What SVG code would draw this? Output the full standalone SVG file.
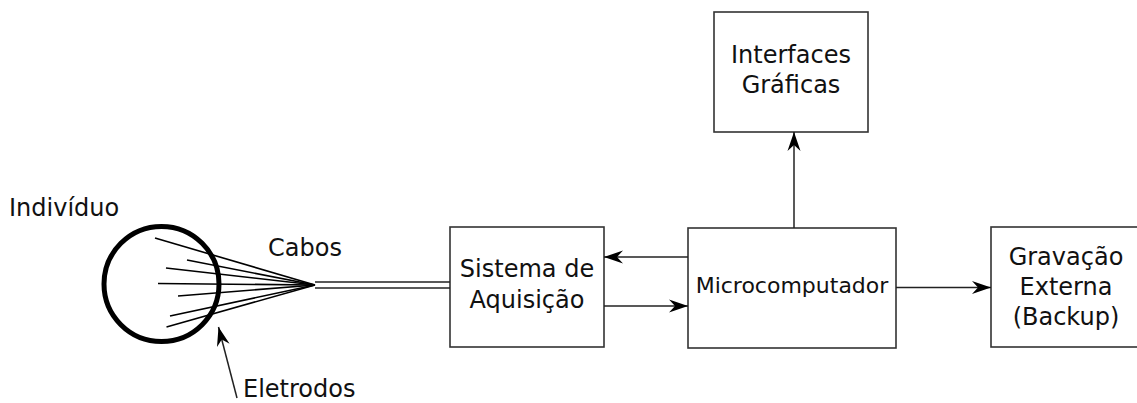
<svg xmlns="http://www.w3.org/2000/svg" width="1137" height="403" viewBox="0 0 1137 403">
  <style>
    .box { fill: #fff; stroke: #333; stroke-width: 1.6; }
    .lbl { font-family: "DejaVu Sans", Verdana, sans-serif; font-size: 24px; fill: #111; }
    .mid { text-anchor: middle; }
    .wire { stroke: #222; stroke-width: 1.5; fill: none; }
    .arrow { stroke: #222; stroke-width: 1.5; fill: none; marker-end: url(#head); }
    .lead { stroke: #000; stroke-width: 1.6; fill: none; }
  </style>
  <defs>
    <marker id="head" viewBox="-20 -8 21 16" refX="0" refY="0" markerWidth="21" markerHeight="16" markerUnits="userSpaceOnUse" orient="auto">
      <path d="M0,0 L-19,-6.5 L-13,0 L-19,6.5 Z" fill="#000"/>
    </marker>
  </defs>

  <!-- subject with electrodes -->
  <g id="individuo">
    <circle cx="161.5" cy="284" r="57.5" fill="none" stroke="#000" stroke-width="5"/>
    <g class="lead">
      <line x1="155" y1="238" x2="315" y2="285"/>
      <line x1="187" y1="260" x2="315" y2="285"/>
      <line x1="166" y1="268" x2="315" y2="285"/>
      <line x1="158" y1="283.5" x2="315" y2="285"/>
      <line x1="178" y1="296" x2="315" y2="285"/>
      <line x1="170" y1="316" x2="315" y2="285"/>
      <line x1="166.5" y1="327" x2="315" y2="285"/>
    </g>
    <text class="lbl" x="9" y="216">Indivíduo</text>
  </g>

  <g id="cabos-label">
    <text class="lbl" x="268" y="256">Cabos</text>
  </g>

  <g id="eletrodos-label">
    <text class="lbl" x="243" y="397">Eletrodos</text>
  </g>

  <g id="sistema">
    <rect class="box" x="450" y="227" width="154" height="120"/>
    <text class="lbl mid" x="527" y="277">Sistema de</text>
    <text class="lbl mid" x="527" y="308">Aquisição</text>
  </g>

  <g id="micro">
    <rect class="box" x="688" y="228" width="208" height="120"/>
    <text class="lbl mid" x="792" y="293" style="font-size:22px">Microcomputador</text>
  </g>

  <g id="interfaces">
    <rect class="box" x="714" y="12" width="154" height="120"/>
    <text class="lbl mid" x="791" y="63">Interfaces</text>
    <text class="lbl mid" x="791" y="93">Gráficas</text>
  </g>

  <g id="gravacao">
    <rect class="box" x="991" y="227" width="150" height="120"/>
    <text class="lbl mid" x="1066" y="265">Gravação</text>
    <text class="lbl mid" x="1066" y="295">Externa</text>
    <text class="lbl mid" x="1066" y="325">(Backup)</text>
  </g>

  <!-- connectors -->
  <g id="connectors">
    <line class="wire" x1="315" y1="282" x2="450" y2="282"/>
    <line class="wire" x1="315" y1="288" x2="450" y2="288"/>
    <line class="arrow" x1="688" y1="257" x2="604" y2="257"/>
    <line class="arrow" x1="604" y1="306" x2="688" y2="306"/>
    <line class="arrow" x1="794" y1="228" x2="794" y2="132"/>
    <line class="arrow" x1="896" y1="287.5" x2="991" y2="287.5"/>
    <line class="arrow" x1="237" y1="398" x2="218.5" y2="327"/>
  </g>
</svg>
